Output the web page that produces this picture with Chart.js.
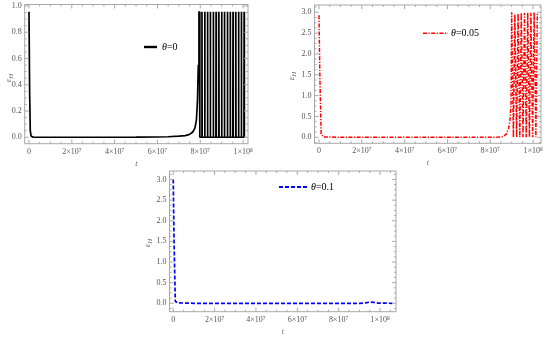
<!DOCTYPE html>
<html>
<head>
<meta charset="utf-8">
<script src="https://cdn.jsdelivr.net/npm/chart.js@4.4.1/dist/chart.umd.min.js"></script>
<style>
  html, body { margin: 0; padding: 0; background: #fff; }
  #wrap { position: relative; width: 550px; height: 337px; }
  #wrap canvas { position: absolute; left: 0; top: 0; }
</style>
</head>
<body>
<div id="wrap">
  <canvas id="g1" width="550" height="337"></canvas>
  <canvas id="g2" width="550" height="337"></canvas>
  <canvas id="g3" width="550" height="337"></canvas>
</div>
<script>
// ticks (t is in units of 10^7)
const tTicks = [0, 2, 4, 6, 8, 10];
const tTickLabels = ['0', '2×10⁷', '4×10⁷', '6×10⁷', '8×10⁷', '1×10⁸'];
const yTicksA = [0, 0.2, 0.4, 0.6, 0.8, 1.0];
const yTickLabelsA = ['0.0', '0.2', '0.4', '0.6', '0.8', '1.0'];
const yTicksB = [0, 0.5, 1, 1.5, 2, 2.5, 3];
const yTickLabelsB = ['0.0', '0.5', '1.0', '1.5', '2.0', '2.5', '3.0'];

// theta = 0 (black)
const t0 = [0, 0.03, 0.06, 0.1, 0.2, 1, 2, 3, 4, 5, 6, 6.5, 7, 7.3, 7.5, 7.65, 7.75, 7.82, 7.87, 7.91, 7.94, 7.96, 7.98,
  8.07, 8.08, 8.09, 8.20, 8.21, 8.22, 8.33, 8.34, 8.35, 8.46, 8.47, 8.48, 8.60, 8.61, 8.62, 8.73, 8.74, 8.75,
  8.86, 8.87, 8.88, 8.99, 9.00, 9.01, 9.12, 9.13, 9.14, 9.26, 9.27, 9.28, 9.39, 9.40, 9.41, 9.52, 9.53, 9.54,
  9.65, 9.66, 9.67, 9.78, 9.79, 9.80, 9.91, 9.92, 9.93, 10.04, 10.05, 10.06];
const e0 = [0.955, 0.35, 0.05, 0.008, 0.001, 0, 0, 0, 0, 0.0005, 0.002, 0.004, 0.008, 0.013, 0.022, 0.04, 0.07, 0.13, 0.28, 0.55, 0.955, 0.955, 0,
  0, 0.955, 0, 0, 0.955, 0, 0, 0.955, 0, 0, 0.955, 0, 0, 0.955, 0, 0, 0.955, 0,
  0, 0.955, 0, 0, 0.955, 0, 0, 0.955, 0, 0, 0.955, 0, 0, 0.955, 0, 0, 0.955, 0,
  0, 0.955, 0, 0, 0.955, 0, 0, 0.955, 0, 0, 0.955, 0];

// theta = 0.05 (red)
const t1 = [0, 0.04, 0.1, 0.2, 1, 2, 3, 4, 5, 6, 7, 8, 8.4, 8.6, 8.75, 8.85, 8.92, 8.97, 9.0,
  9.08, 9.15, 9.23, 9.3, 9.38, 9.45, 9.53, 9.6, 9.68, 9.75, 9.83, 9.9, 9.98, 10.05, 10.13, 10.2];
const e1 = [2.93, 1.5, 0.08, 0.01, 0, 0, 0, 0, 0, 0, 0, 0.001, 0.005, 0.015, 0.08, 0.2, 0.4, 0.8, 3.0,
  0, 2.95, 0, 2.97, 0, 2.99, 0, 2.98, 0, 3.0, 0, 2.99, 0, 3.0, 0, 2.98];

// theta = 0.1 (blue)
const t2 = [0, 0.04, 0.1, 0.2, 1, 2, 3, 4, 5, 6, 7, 8, 9, 9.3, 9.5, 9.7, 9.9, 10.6];
const e2 = [3.0, 1.5, 0.05, 0.01, 0, 0, 0, 0, 0, 0, 0, 0, 0, 0.01, 0.03, 0.02, 0.005, 0];

const toPts = (t, e) => t.map((v, i) => ({ x: v, y: e[i] }));

// frame with inside ticks on all four sides, like Mathematica
const frameTicks = {
  id: 'frameTicks',
  afterDraw(chart) {
    const { ctx, chartArea: a, scales: { x, y } } = chart;
    ctx.save();
    ctx.strokeStyle = '#a8a8a8';
    ctx.lineWidth = 1;
    ctx.strokeRect(a.left, a.top, a.right - a.left, a.bottom - a.top);
    const seg = (x1, y1, x2, y2) => { ctx.beginPath(); ctx.moveTo(x1, y1); ctx.lineTo(x2, y2); ctx.stroke(); };
    const marks = (scale) => {
      const v = scale.ticks.map(t => t.value);
      const step = v[1] - v[0];
      const out = [];
      for (let k = -4; k <= (v.length + 1) * 4; k++) {
        const val = v[0] + k * step / 4;
        if (val >= scale.min && val <= scale.max) out.push({ val, major: k % 4 === 0 && k >= 0 && k / 4 < v.length });
      }
      return out;
    };
    marks(x).forEach(m => {
      const p = x.getPixelForValue(m.val), l = m.major ? 4 : 2;
      seg(p, a.bottom, p, a.bottom - l);
      seg(p, a.top, p, a.top + l);
    });
    marks(y).forEach(m => {
      const p = y.getPixelForValue(m.val), l = m.major ? 4 : 2;
      seg(a.left, p, a.left + l, p);
      seg(a.right, p, a.right - l, p);
    });
    ctx.restore();
  }
};

// legend entry and axis titles
const decor = {
  id: 'decor',
  afterDraw(chart, args, o) {
    const { ctx, chartArea: a } = chart;
    const ds = chart.data.datasets[0];
    ctx.save();
    ctx.strokeStyle = ds.borderColor;
    ctx.lineWidth = o.lw;
    ctx.setLineDash(ds.borderDash || []);
    ctx.beginPath();
    ctx.moveTo(o.lx, o.ly);
    ctx.lineTo(o.lx + o.len, o.ly);
    ctx.stroke();
    ctx.setLineDash([]);
    ctx.fillStyle = '#000';
    ctx.textBaseline = 'middle';
    ctx.font = 'italic 10px "Liberation Serif"';
    ctx.fillText('θ', o.tx, o.ly);
    const w = ctx.measureText('θ').width;
    ctx.font = '10px "Liberation Serif"';
    ctx.fillText(ds.label.slice(1), o.tx + w, o.ly);

    ctx.fillStyle = '#666';
    ctx.textAlign = 'center';
    ctx.font = 'italic 8px "Liberation Serif"';
    ctx.fillText('t', (a.left + a.right) / 2, a.bottom + 20);

    ctx.translate(o.yx, o.yy);
    ctx.rotate(-Math.PI / 2);
    ctx.textAlign = 'left';
    ctx.font = 'italic 9px "Liberation Serif"';
    const we = ctx.measureText('ε').width;
    ctx.font = 'italic 7px "Liberation Serif"';
    const wh = ctx.measureText('H').width;
    const x0 = -(we + wh) / 2;
    ctx.font = 'italic 9px "Liberation Serif"';
    ctx.fillText('ε', x0, 0);
    ctx.font = 'italic 7px "Liberation Serif"';
    ctx.fillText('H', x0 + we, 2);
    ctx.restore();
  }
};

const tickFont = { family: 'Liberation Serif', size: 8 };

function panel(id, ds, area, xr, yr, yTicks, yLabels, deco) {
  return new Chart(document.getElementById(id), {
    type: 'line',
    data: { datasets: [ds] },
    options: {
      responsive: false,
      animation: false,
      events: [],
      layout: { padding: { left: area[0] - 20, top: area[1], right: 550 - area[2], bottom: 337 - area[3] - 20 } },
      plugins: { legend: { display: false }, tooltip: { enabled: false }, decor: deco },
      elements: { point: { radius: 0 }, line: { tension: 0, borderJoinStyle: 'bevel' } },
      scales: {
        x: {
          type: 'linear', min: xr[0], max: xr[1],
          afterBuildTicks: s => { s.ticks = tTicks.map(v => ({ value: v })); },
          afterFit: s => { s.height = 20; s.paddingLeft = 0; s.paddingRight = 0; },
          ticks: { callback: (v, i) => tTickLabels[i], font: tickFont, color: '#555', padding: 3, maxRotation: 0, autoSkip: false },
          grid: { display: false, drawTicks: false },
          border: { display: false }
        },
        y: {
          type: 'linear', min: yr[0], max: yr[1],
          afterBuildTicks: s => { s.ticks = yTicks.map(v => ({ value: v })); },
          afterFit: s => { s.width = 20; s.paddingTop = 0; s.paddingBottom = 0; },
          ticks: { callback: (v, i) => yLabels[i], font: tickFont, color: '#555', padding: 3, autoSkip: false },
          grid: { display: false, drawTicks: false },
          border: { display: false }
        }
      }
    },
    plugins: [frameTicks, decor]
  });
}

panel('g1',
  { label: 'θ=0', data: toPts(t0, e0), borderColor: '#000000', borderWidth: 1.7, fill: false },
  [24.7, 4.5, 248, 143.7], [-0.2, 10.23], [-0.049, 1.011], yTicksA, yTickLabelsA,
  { lx: 144, ly: 47, len: 13, tx: 162, yx: 9, yy: 78, lw: 2.4 });

panel('g2',
  { label: 'θ=0.05', data: toPts(t1, e1), borderColor: '#ff0000', borderWidth: 1.5, borderDash: [4, 1.5, 1.2, 1.5], fill: false },
  [314.5, 5, 541, 143.3], [-0.21, 10.37], [-0.144, 3.175], yTicksB, yTickLabelsB,
  { lx: 423, ly: 33.3, len: 25, tx: 451, yx: 292, yy: 76, lw: 1.6 });

panel('g3',
  { label: 'θ=0.1', data: toPts(t2, e2), borderColor: '#0000ff', borderWidth: 1.7, borderDash: [4, 2], fill: false },
  [169.5, 171, 396, 311.7], [-0.18, 10.77], [-0.204, 3.206], yTicksB, yTickLabelsB,
  { lx: 279, ly: 187, len: 28, tx: 311, yx: 148, yy: 243, lw: 1.8 });
</script>
</body>
</html>
